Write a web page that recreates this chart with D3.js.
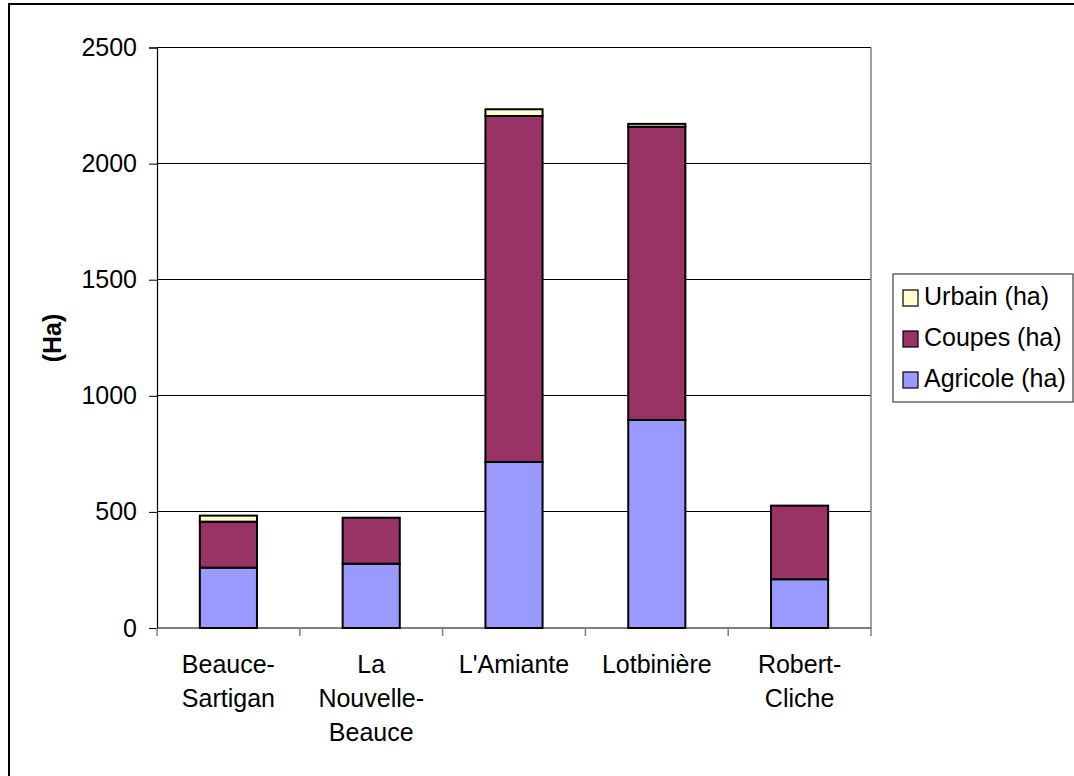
<!DOCTYPE html>
<html>
<head>
<meta charset="utf-8">
<script src="https://cdn.jsdelivr.net/npm/d3@7"></script>
<style>
  html, body { margin: 0; padding: 0; background: #fff; }
  svg { display: block; }
  text { font-family: "Liberation Sans", Arial, sans-serif; }
</style>
</head>
<body>
<svg id="chart" width="1074" height="776"></svg>
<script>
const categories = ["Beauce-Sartigan", "La Nouvelle-Beauce", "L'Amiante", "Lotbinière", "Robert-Cliche"];
const categoryLines = [["Beauce-", "Sartigan"], ["La", "Nouvelle-", "Beauce"], ["L'Amiante"], ["Lotbinière"], ["Robert-", "Cliche"]];
const agricole = [260, 277, 715, 896, 210];
const coupes = [198, 198, 1490, 1263, 317];
const urbain = [26, 0, 29, 12, 0];
const seriesNames = ["Agricole (ha)", "Coupes (ha)", "Urbain (ha)"];
const seriesColors = ["#9999FF", "#993366", "#FFFFCC"];
const yTicks = [0, 500, 1000, 1500, 2000, 2500];

const svg = d3.select("#chart");
const plot = { left: 157, right: 871, top: 47.5, bottom: 628 };
const FS = 25;

// outer chart border (extends past right/bottom edges)
svg.append("rect").attr("x", 9).attr("y", 4).attr("width", 1200).attr("height", 900)
  .attr("fill", "#fff").attr("stroke", "#000").attr("stroke-width", 2);

const x = d3.scaleBand().domain(categories).range([plot.left, plot.right]).paddingInner(0.6).paddingOuter(0.3);
const y = d3.scaleLinear().domain([0, 2500]).range([plot.bottom, plot.top]);

// gridlines
svg.append("g").selectAll("line").data(yTicks.filter(d => d > 0)).join("line")
  .attr("x1", plot.left).attr("x2", plot.right)
  .attr("y1", d => y(d)).attr("y2", d => y(d))
  .attr("stroke", "#000").attr("stroke-width", 1).attr("shape-rendering", "crispEdges");

// right border of plot area
svg.append("line").attr("x1", plot.right).attr("x2", plot.right).attr("y1", plot.top).attr("y2", plot.bottom)
  .attr("stroke", "#808080").attr("stroke-width", 1.5);

// stacked data
const rows = categories.map((c, i) => ({ cat: c, "Agricole (ha)": agricole[i], "Coupes (ha)": coupes[i], "Urbain (ha)": urbain[i] }));
const stack = d3.stack().keys(seriesNames)(rows);

svg.append("g").selectAll("g").data(stack).join("g")
  .attr("fill", (d, i) => seriesColors[i])
  .selectAll("rect").data(d => d.filter(s => s[1] - s[0] > 0)).join("rect")
  .attr("x", d => x(d.data.cat))
  .attr("width", x.bandwidth())
  .attr("y", d => y(d[1]))
  .attr("height", d => y(d[0]) - y(d[1]))
  .attr("stroke", "#000").attr("stroke-width", 2);

// y axis
const yAxis = d3.axisLeft(y).tickValues(yTicks).tickSize(8).tickPadding(12).tickFormat(d3.format("d"));
const gy = svg.append("g").attr("transform", `translate(${plot.left},0)`).call(yAxis);
gy.select(".domain").attr("stroke", "#000").attr("stroke-width", 1.2);
gy.selectAll(".tick line").attr("stroke", "#000");
gy.selectAll(".tick text").attr("font-size", FS).attr("fill", "#000")
  .attr("font-family", "Liberation Sans, Arial, sans-serif");

// x axis
const xEdges = d3.scaleLinear().domain([0, categories.length]).range([plot.left, plot.right]);
const gx = svg.append("g");
gx.append("line").attr("x1", plot.left).attr("x2", plot.right).attr("y1", plot.bottom).attr("y2", plot.bottom)
  .attr("stroke", "#000").attr("stroke-width", 1.2);
gx.selectAll("line.tk").data(d3.range(categories.length + 1)).join("line").attr("class", "tk")
  .attr("x1", d => xEdges(d)).attr("x2", d => xEdges(d))
  .attr("y1", plot.bottom).attr("y2", plot.bottom + 8)
  .attr("stroke", "#808080").attr("stroke-width", 1.5);

const labels = svg.append("g").selectAll("text").data(categories).join("text")
  .attr("text-anchor", "middle").attr("font-size", FS).attr("fill", "#000")
  .attr("x", d => x(d) + x.bandwidth() / 2);
labels.each(function(d, i) {
  const t = d3.select(this);
  categoryLines[i].forEach((ln, j) => {
    t.append("tspan").attr("x", x(d) + x.bandwidth() / 2).attr("y", 673 + j * 34).text(ln);
  });
});

// y axis title
svg.append("text").attr("transform", "translate(61,338) rotate(-90)")
  .attr("text-anchor", "middle").attr("font-size", FS).attr("font-weight", "bold").text("(Ha)");

// legend
const lg = svg.append("g");
lg.append("rect").attr("x", 893).attr("y", 274).attr("width", 180).attr("height", 128)
  .attr("fill", "#fff").attr("stroke", "#404040").attr("stroke-width", 1.2);
const legendOrder = [2, 1, 0];
legendOrder.forEach((si, j) => {
  const base = 305 + j * 41;
  lg.append("rect").attr("x", 903).attr("y", base - 15).attr("width", 15).attr("height", 16)
    .attr("fill", seriesColors[si]).attr("stroke", "#000").attr("stroke-width", 1.2);
  lg.append("text").attr("x", 924).attr("y", base).attr("font-size", FS).text(seriesNames[si]);
});
</script>
</body>
</html>
